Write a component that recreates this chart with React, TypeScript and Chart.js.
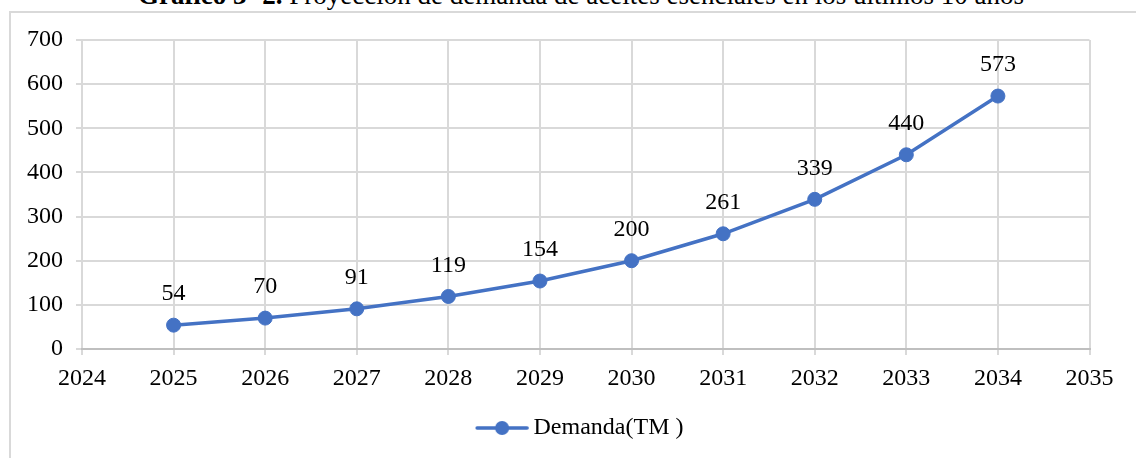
import React, { useEffect, useRef } from "react";
import { Chart, registerables } from "chart.js";

Chart.register(...registerables);

const years = [2025, 2026, 2027, 2028, 2029, 2030, 2031, 2032, 2033, 2034];
const demanda = [54, 70, 91, 119, 154, 200, 261, 339, 440, 573];
const seriesLabel = "Demanda(TM )";
const xMin = 2024;
const xMax = 2035;
const yMin = 0;
const yMax = 700;
const yStep = 100;
const titleBold = "Gráfico 3- 2.";
const titleRest = " Proyección de demanda de aceites esenciales en los últimos 10 años";

const BLUE = "#4472C4";
const FONT = "'Liberation Serif', 'Times New Roman', serif";

function makeLegendImage(): HTMLCanvasElement {
  const c = document.createElement("canvas");
  c.width = 60;
  c.height = 16;
  const ctx = c.getContext("2d")!;
  const cx = 27.25;
  ctx.strokeStyle = BLUE;
  ctx.lineWidth = 3.5;
  ctx.lineCap = "round";
  ctx.beginPath();
  ctx.moveTo(cx - 25, 8);
  ctx.lineTo(cx + 25, 8);
  ctx.stroke();
  ctx.fillStyle = BLUE;
  ctx.beginPath();
  ctx.arc(cx, 8, 7, 0, Math.PI * 2);
  ctx.fill();
  return c;
}

const dataLabels = {
  id: "dataLabels",
  afterDatasetsDraw(chart: any) {
    const ctx = chart.ctx;
    const meta = chart.getDatasetMeta(0);
    const ds = chart.data.datasets[0];
    ctx.save();
    ctx.font = `24px ${FONT}`;
    ctx.fillStyle = "#000";
    ctx.textAlign = "center";
    ctx.textBaseline = "middle";
    meta.data.forEach((pt: any, i: number) => {
      const v = ds.data[i].y;
      ctx.fillText(String(v), pt.x, pt.y - 31);
    });
    ctx.restore();
  },
};

export default function App() {
  const ref = useRef<HTMLCanvasElement>(null);
  useEffect(() => {
    if (!ref.current) return;
    const chart = new Chart(ref.current, {
      type: "line",
      data: {
        datasets: [
          {
            label: seriesLabel,
            data: years.map((x, i) => ({ x, y: demanda[i] })),
            borderColor: BLUE,
            backgroundColor: BLUE,
            borderWidth: 3.5,
            pointRadius: 7,
            pointHoverRadius: 7,
            pointBackgroundColor: BLUE,
            pointBorderColor: BLUE,
            pointBorderWidth: 1,
            tension: 0,
          },
        ],
      },
      options: {
        responsive: false,
        animation: false,
        layout: { padding: { left: 0, right: 46.5, top: 40, bottom: 8 } },
        plugins: {
          tooltip: { enabled: false },
          title: { display: false },
          legend: {
            display: true,
            position: "bottom",
            fullSize: false,
            labels: {
              usePointStyle: true,
              pointStyle: makeLegendImage() as any,
              pointStyleWidth: 33.5,
              padding: 17,
              color: "#000",
              font: { family: FONT, size: 24 },
            },
          },
        },
        scales: {
          x: {
            type: "linear",
            min: xMin,
            max: xMax,
            afterFit: (s: any) => {
              s.height = 50;
            },
            ticks: {
              stepSize: 1,
              color: "#000",
              padding: 9,
              font: { family: FONT, size: 24 },
              callback: (v: any) => String(v),
            },
            grid: { color: "#d9d9d9", lineWidth: 2, tickLength: 6 },
            border: { color: "#bfbfbf", width: 2 },
          },
          y: {
            min: yMin,
            max: yMax,
            afterFit: (s: any) => {
              s.width = 82;
            },
            ticks: {
              stepSize: yStep,
              color: "#000",
              padding: 13,
              font: { family: FONT, size: 24 },
            },
            grid: { color: "#d9d9d9", lineWidth: 2, tickLength: 6 },
            border: { display: false },
          },
        },
      },
      plugins: [dataLabels],
    });
    return () => chart.destroy();
  }, []);

  return (
    <div
      style={{
        position: "fixed",
        left: 0,
        top: 0,
        width: 1136,
        height: 458,
        overflow: "hidden",
        background: "#fff",
      }}
    >
      <div
        style={{
          position: "absolute",
          left: 0,
          width: 1162,
          top: -17.6,
          fontFamily: FONT,
          fontSize: 27,
          lineHeight: "27px",
          textAlign: "center",
          whiteSpace: "nowrap",
          color: "#000",
        }}
      >
        <b>{titleBold}</b>
        {titleRest}
      </div>
      <div
        style={{
          position: "absolute",
          left: 9,
          top: 11,
          width: 1150,
          height: 470,
          border: "2px solid #d9d9d9",
          boxSizing: "border-box",
        }}
      />
      <canvas
        ref={ref}
        width={1136}
        height={458}
        style={{ position: "absolute", left: 0, top: 0, width: 1136, height: 458 }}
      />
    </div>
  );
}
